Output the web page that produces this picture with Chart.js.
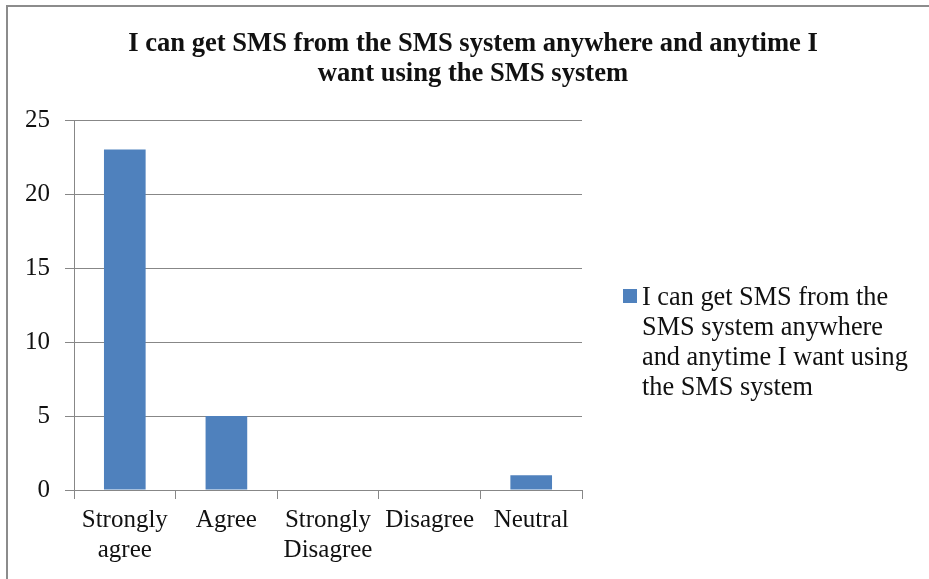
<!DOCTYPE html>
<html>
<head>
<meta charset="utf-8">
<script src="https://cdn.jsdelivr.net/npm/chart.js@4/dist/chart.umd.min.js"></script>
<style>
  html, body { margin: 0; padding: 0; background: #fff; overflow: hidden; width: 929px; height: 579px; }
  #frame { position: absolute; left: 6px; top: 5px; width: 2000px; height: 2000px; border-left: 2px solid #8c8c8c; border-top: 2px solid #8c8c8c; }
  #wrap { position: absolute; left: 0; top: 0; width: 946px; height: 579px; }
  #title { position: absolute; left: 0; top: 27px; width: 946px; text-align: center; font-family: "Liberation Serif", "Times New Roman", serif; font-weight: bold; font-size: 26.6px; line-height: 30px; color: #111; }
  #legend { position: absolute; left: 623px; top: 282px; font-family: "Liberation Serif", "Times New Roman", serif; font-size: 26.3px; line-height: 30px; color: #111; }
  #legend .box { position: absolute; left: 0; top: 7px; width: 14px; height: 14px; }
  #legend .txt { position: absolute; left: 19px; top: 0; width: 280px; }
</style>
</head>
<body>
<div id="frame"></div>
<div id="wrap"><canvas id="chart" width="946" height="579"></canvas></div>
<div id="title"></div>
<div id="legend"></div>
<script>
const titleLines = ["I can get SMS from the SMS system anywhere and anytime I", "want using the SMS system"]
const seriesName = "I can get SMS from the SMS system anywhere and anytime I want using the SMS system"
const categories = ["Strongly agree", "Agree", "Strongly Disagree", "Disagree", "Neutral"]
const counts = [23, 5, 0, 0, 1]
const yMin = 0
const yMax = 25
const yStep = 5

const serif = "'Liberation Serif', 'Times New Roman', serif"
const gridColor = "#878787"
const barColor = "#4F81BD"

// title and legend as html, so they can sit outside the plot box
const titleEl = document.getElementById("title")
titleLines.forEach((line, i) => {
  if (i > 0) titleEl.appendChild(document.createElement("br"))
  titleEl.appendChild(document.createTextNode(line))
})

const htmlLegend = {
  id: "htmlLegend",
  afterUpdate(chart) {
    const el = document.getElementById("legend")
    el.innerHTML = ""
    chart.data.datasets.forEach(ds => {
      const box = document.createElement("span")
      box.className = "box"
      box.style.background = ds.backgroundColor
      const txt = document.createElement("span")
      txt.className = "txt"
      txt.textContent = ds.label
      el.appendChild(box)
      el.appendChild(txt)
    })
  },
}

new Chart(document.getElementById("chart"), {
  type: "bar",
  data: {
    labels: categories,
    datasets: [{
      label: seriesName,
      data: counts,
      backgroundColor: barColor,
      borderWidth: 0,
      barPercentage: 0.41,
      categoryPercentage: 1,
    }],
  },
  plugins: [htmlLegend],
  options: {
    responsive: false,
    animation: false,
    layout: { padding: { left: 0, right: 364, top: 120, bottom: 0 } },
    scales: {
      x: {
        offset: true,
        grid: { drawOnChartArea: false, drawTicks: true, tickLength: 9, color: gridColor, offset: true },
        border: { color: gridColor, width: 1 },
        ticks: {
          color: "#111",
          font: { family: serif, size: 25, lineHeight: 1.2 },
          padding: 6,
          maxRotation: 0,
          autoSkip: false,
          callback(value) {
            const label = this.getLabelForValue(value)
            return label.includes(" ") ? label.split(" ") : label
          },
        },
        afterFit(scale) { scale.height = 89 },
      },
      y: {
        min: yMin,
        max: yMax,
        grid: { color: gridColor, tickLength: 9 },
        border: { color: gridColor, width: 1 },
        ticks: {
          stepSize: yStep,
          color: "#111",
          font: { family: serif, size: 25 },
          padding: 15,
        },
        afterFit(scale) { scale.width = 74 },
      },
    },
    plugins: {
      legend: { display: false },
      tooltip: { enabled: false },
      title: { display: false },
    },
  },
})
</script>
</body>
</html>
